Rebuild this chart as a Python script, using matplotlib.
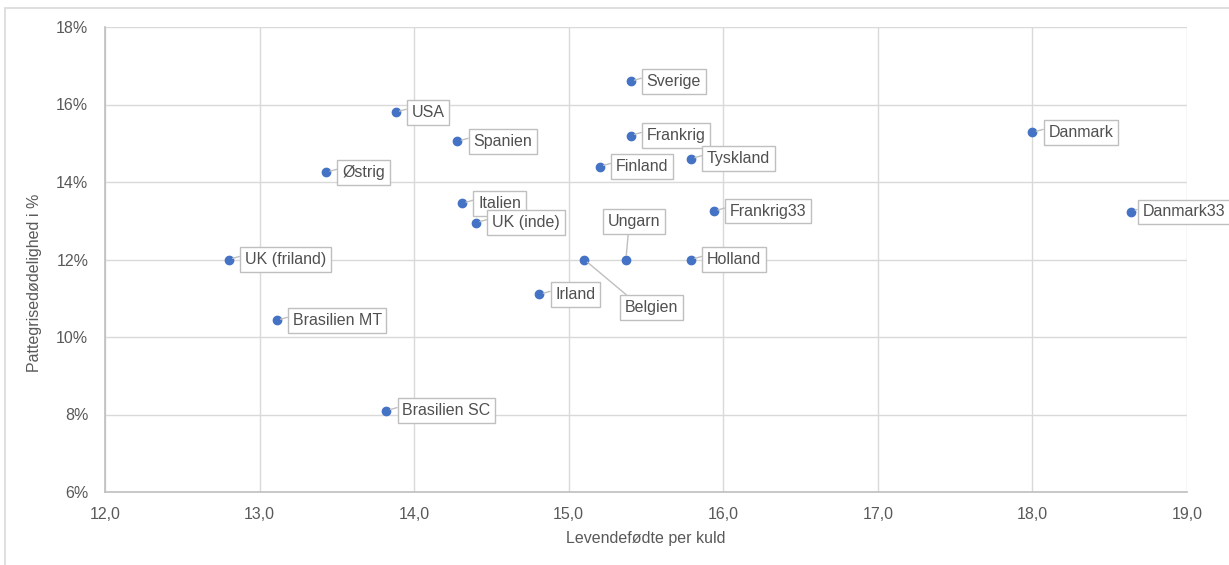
import matplotlib.pyplot as plt
from matplotlib.patches import Rectangle
from matplotlib.ticker import FuncFormatter

plt.rcParams['font.family'] = ['Liberation Sans', 'DejaVu Sans']

# Data
names = ["Sverige", "USA", "Spanien", "Frankrig", "Danmark", "Østrig", "Finland",
         "Tyskland", "Italien", "UK (inde)", "Frankrig33", "Danmark33", "Ungarn",
         "Belgien", "Holland", "UK (friland)", "Irland", "Brasilien MT", "Brasilien SC"]
levende = [15.40, 13.88, 14.28, 15.40, 18.00, 13.43, 15.20,
           15.79, 14.31, 14.40, 15.94, 18.64, 15.37,
           15.10, 15.79, 12.80, 14.81, 13.11, 13.82]
doedelighed = [16.6, 15.8, 15.05, 15.2, 15.28, 14.25, 14.4,
               14.6, 13.45, 12.95, 13.25, 13.23, 12.0,
               12.0, 12.0, 12.0, 11.1, 10.43, 8.1]

textColor = '#595959'
gridColor = '#d9d9d9'
dotColor = '#4472C4'

fig = plt.figure(figsize=(12.29, 5.65), dpi=100)
ax = fig.add_axes([105/1229, 1 - 492/565, (1187 - 105)/1229, (492 - 27)/565])

# outer chart border (only left/top visible in the screenshot)
fig.patches.append(Rectangle((5/1229, -0.2), 2, 1.2 - 7.5/565, transform=fig.transFigure,
                             fill=False, edgecolor=gridColor, lw=1.2))

ax.scatter(levende, doedelighed, s=36, color=dotColor, zorder=4)

# Label positions: default is right of the point, a few get moved
special = {
    "Ungarn": ((8, 38), 'center', (0.4, 0)),
    "Belgien": ((67, -48), 'center', (0.15, 1)),
    "Danmark33": ((11, 0), 'left', (0, 0.8)),
}
for name, xv, yv in zip(names, levende, doedelighed):
    if name in special:
        offset, ha, rel = special[name]
    else:
        offset, ha, rel = (16, 0), 'left', (0, 0.8)
    ax.annotate(name, (xv, yv), xytext=offset, textcoords='offset pixels',
                ha=ha, va='center', fontsize=11.5, color='#505050', zorder=5,
                bbox=dict(boxstyle='square,pad=0.3', fc='white', ec='#bfbfbf', lw=1),
                arrowprops=dict(arrowstyle='-', color='#bfbfbf', lw=1,
                                shrinkA=0, shrinkB=3, relpos=rel))

ax.set_xlim(12, 19)
ax.set_ylim(6, 18)
ax.set_xticks([12, 13, 14, 15, 16, 17, 18, 19])
ax.set_yticks([6, 8, 10, 12, 14, 16, 18])
ax.xaxis.set_major_formatter(FuncFormatter(lambda v, p: f"{v:.1f}".replace('.', ',')))
ax.yaxis.set_major_formatter(FuncFormatter(lambda v, p: f"{v:.0f}%"))
ax.tick_params(length=0, labelsize=11.5, labelcolor=textColor)
ax.tick_params(axis='y', pad=12)
ax.tick_params(axis='x', pad=11)
ax.grid(True, color=gridColor, lw=1)
ax.set_axisbelow(True)
for side in ['top', 'right']:
    ax.spines[side].set_visible(False)
for side in ['left', 'bottom']:
    ax.spines[side].set_color('#bfbfbf')
    ax.spines[side].set_linewidth(1.2)

fig.text(646/1229, 1 - 538/565, "Levendefødte per kuld", ha='center', va='center',
         fontsize=11.5, color=textColor)
fig.text(35/1229, 1 - 283/565, "Pattegrisedødelighed i %", ha='center', va='center',
         rotation=90, fontsize=11.5, color=textColor)

fig.savefig('out.png', dpi=100)
